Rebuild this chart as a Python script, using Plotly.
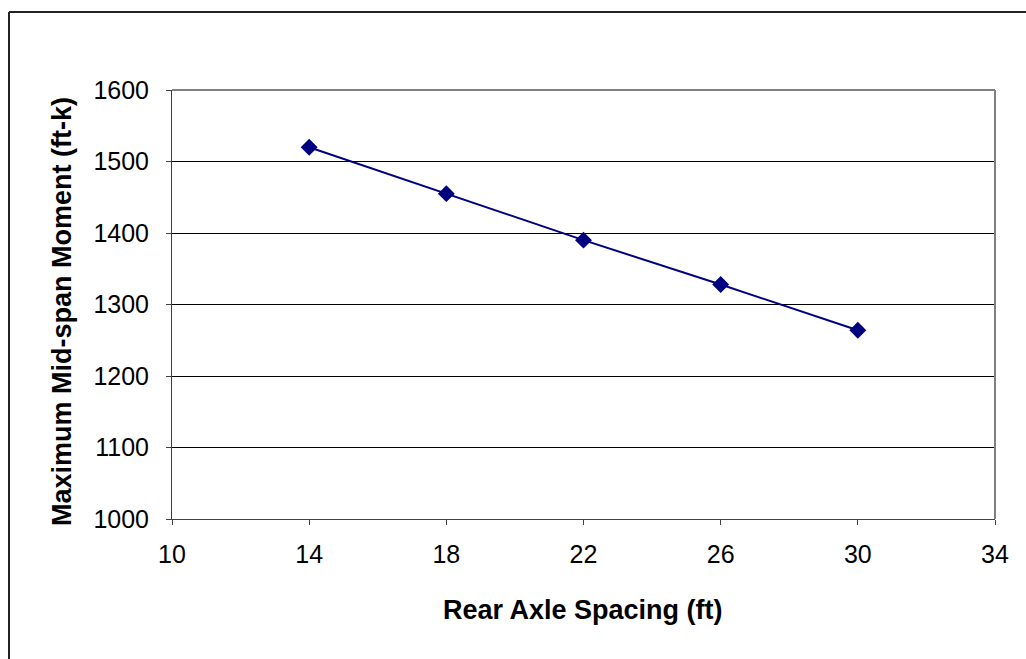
import plotly.graph_objects as go

# Rear axle spacing vs. maximum mid-span moment
spacing_ft = [14, 18, 22, 26, 30]
moment_ftk = [1520, 1455, 1390, 1328, 1264]

x_ticks = [10, 14, 18, 22, 26, 30, 34]
y_ticks = [1000, 1100, 1200, 1300, 1400, 1500, 1600]

W, H = 1026, 659
L, R, T, B = 172, 31, 90, 140
pw, ph = W - L - R, H - T - B


def px_x(px):
    return (px - L) / pw


def px_y(py):
    return (H - B - py) / ph


fig = go.Figure()
fig.add_trace(go.Scatter(
    x=spacing_ft, y=moment_ftk, mode="lines+markers",
    line=dict(color="#000080", width=2),
    marker=dict(symbol="diamond", size=13, color="#000080"),
    showlegend=False,
))

font_family = "Liberation Sans, Arial, sans-serif"

fig.update_layout(
    width=W, height=H,
    margin=dict(l=L, r=R, t=T, b=B),
    paper_bgcolor="white", plot_bgcolor="white",
    font=dict(family=font_family, color="black"),
    xaxis=dict(
        range=[10, 34], tickvals=x_ticks, ticktext=[str(v) for v in x_ticks],
        showgrid=False, zeroline=False,
        showline=True, linecolor="#404040", linewidth=1,
        ticks="outside", ticklen=5, tickcolor="#404040",
        ticklabelstandoff=8,
        tickfont=dict(size=25, family=font_family),
    ),
    yaxis=dict(
        range=[1000, 1600], tickvals=y_ticks, ticktext=[str(v) for v in y_ticks],
        showgrid=True, gridcolor="black", gridwidth=1, zeroline=False,
        showline=True, linecolor="#404040", linewidth=1,
        ticks="outside", ticklen=5, tickcolor="#404040",
        ticklabelstandoff=12,
        tickfont=dict(size=25, family=font_family),
    ),
    shapes=[
        # grey frame on the top and right of the plotting area
        dict(type="line", xref="paper", yref="paper", x0=0, x1=1, y0=1, y1=1,
             line=dict(color="#808080", width=2), layer="above"),
        dict(type="line", xref="paper", yref="paper", x0=1, x1=1, y0=0, y1=1,
             line=dict(color="#808080", width=2), layer="above"),
        # outer chart border
        dict(type="line", xref="paper", yref="paper",
             x0=px_x(9), x1=px_x(W + 5), y0=px_y(12), y1=px_y(12),
             line=dict(color="#222222", width=2)),
        dict(type="line", xref="paper", yref="paper",
             x0=px_x(9), x1=px_x(9), y0=px_y(12), y1=px_y(H + 5),
             line=dict(color="#222222", width=2)),
    ],
    annotations=[
        dict(text="<b>Rear Axle Spacing (ft)</b>", xref="paper", yref="paper",
             x=px_x(583), y=px_y(610), showarrow=False,
             font=dict(size=27, family=font_family), xanchor="center", yanchor="middle"),
        dict(text="<b>Maximum Mid-span Moment (ft-k)</b>", xref="paper", yref="paper",
             x=px_x(62), y=px_y(312), showarrow=False, textangle=-90,
             font=dict(size=27, family=font_family), xanchor="center", yanchor="middle"),
    ],
)

fig.write_html("out.html")
